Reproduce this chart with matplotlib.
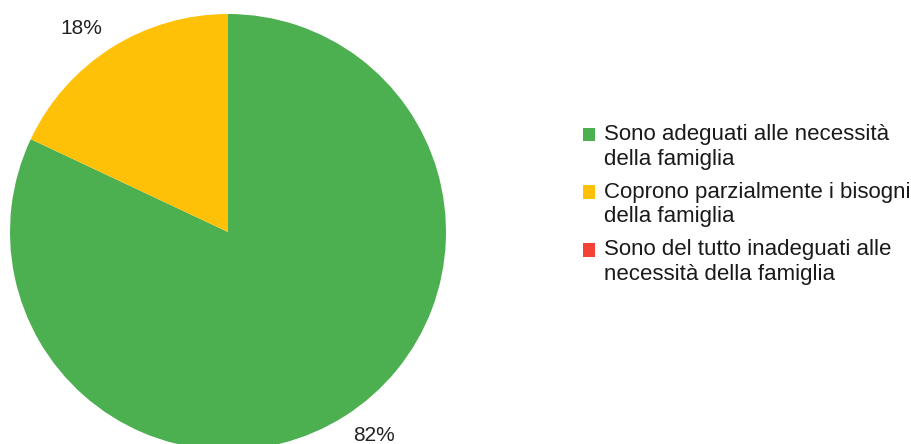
import numpy as np
import matplotlib.pyplot as plt
from matplotlib.patches import Patch, Rectangle
from matplotlib.legend_handler import HandlerPatch

plt.rcParams['font.family'] = ['Liberation Sans', 'DejaVu Sans']

categories = ['Sono adeguati alle necessità\ndella famiglia',
              'Coprono parzialmente i bisogni\ndella famiglia',
              'Sono del tutto inadeguati alle\nnecessità della famiglia']
values = [82, 18, 0]
colors = ['#4CAF50', '#FFC107', '#F44336']

fig = plt.figure(figsize=(9.11, 4.44), dpi=100)
# pie axes: centre ~ (228, 232) px, radius ~218 px, slightly cut at the bottom
ax = fig.add_axes([10 / 911, -6 / 444, 436 / 911, 436 / 444])

wedges, _ = ax.pie(values, colors=colors, startangle=90, counterclock=False,
                   wedgeprops={'linewidth': 0})
ax.set_xlim(-1, 1)
ax.set_ylim(-1, 1)
ax.set_aspect('equal')

# percentage labels just outside the slices
total = float(sum(values))
for w, v in zip(wedges, values):
    if v <= 0:
        continue
    ang = np.deg2rad((w.theta1 + w.theta2) / 2 + 3.3)
    ax.text(1.15 * np.cos(ang), 1.15 * np.sin(ang), '%d%%' % round(100 * v / total),
            ha='center', va='center', fontsize=15, color='#222222')


# square marker lined up with the first line of a two-line label
def top_square(legend, orig_handle, xdescent, ydescent, width, height, fontsize):
    return Rectangle((-xdescent, -ydescent + 0.56 * fontsize), width, height)


handles = [Patch(facecolor=c, edgecolor='none') for c in colors]
leg = fig.legend(handles, categories, loc='upper left',
                 bbox_to_anchor=(583 / 911, 1 - 124 / 444),
                 frameon=False, fontsize=16, handlelength=0.56, handleheight=0.56,
                 handletextpad=0.4, labelspacing=0.55, borderaxespad=0,
                 borderpad=0,
                 handler_map={Patch: HandlerPatch(patch_func=top_square)})
for t in leg.get_texts():
    t.set_linespacing(1.22)
    t.set_color('#1a1a1a')

fig.savefig('out.png', dpi=100)
